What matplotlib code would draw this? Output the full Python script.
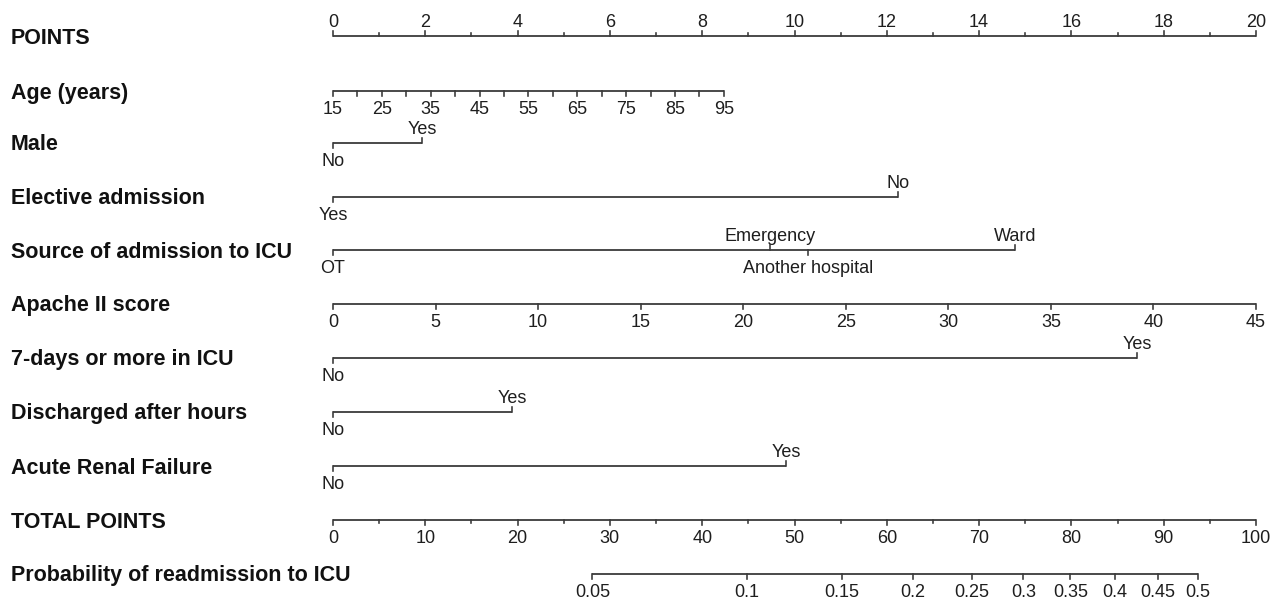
import numpy as np
import matplotlib
matplotlib.use("Agg")
import matplotlib.pyplot as plt

plt.rcParams['font.family'] = ['Liberation Sans', 'DejaVu Sans']

# --- data (positions in "points", 0..20) ---
row_names = ["POINTS", "Age (years)", "Male", "Elective admission",
             "Source of admission to ICU", "Apache II score",
             "7-days or more in ICU", "Discharged after hours",
             "Acute Renal Failure", "TOTAL POINTS",
             "Probability of readmission to ICU"]

points_ticks = list(range(0, 21))
points_labels = list(range(0, 21, 2))

age_ticks = list(range(15, 96, 5))
age_labels = list(range(15, 96, 10))
age_max_points = 8.47          # points at age 95

male_levels = ["No", "Yes"]
male_points = [0.0, 1.93]

elective_levels = ["Yes", "No"]
elective_points = [0.0, 12.24]

source_levels = ["OT", "Emergency", "Another hospital", "Ward"]
source_points = [0.0, 9.47, 10.29, 14.78]
source_side = ["below", "above", "below", "above"]

apache_ticks = list(range(0, 46, 5))
apache_max_points = 20.0       # points at score 45

days7_levels = ["No", "Yes"]
days7_points = [0.0, 17.42]

disch_levels = ["No", "Yes"]
disch_points = [0.0, 3.88]

arf_levels = ["No", "Yes"]
arf_points = [0.0, 9.82]

total_ticks = list(range(0, 101, 5))
total_labels = list(range(0, 101, 10))

prob_labels = ["0.05", "0.1", "0.15", "0.2", "0.25", "0.3", "0.35", "0.4", "0.45", "0.5"]
prob_total_points = [28.1, 44.8, 55.1, 62.8, 69.2, 74.8, 79.9, 84.7, 89.4, 93.7]

# --- layout ---
W, H = 1273, 605
x_left_px, x_right_px = 333, 1256
ppu = (x_right_px - x_left_px) / 20.0
row_y = [36, 91, 143, 197, 250, 304, 358, 412, 466, 520, 574]

LC = "#3a3a3a"
TC = "#1e1e1e"
LW = 1.3
TICK = 5
FS_NAME = 15.5
FS_TICK = 13

fig = plt.figure(figsize=(W / 100, H / 100), dpi=100)
ax = fig.add_axes([0, 0, 1, 1])
ax.set_xlim(-x_left_px / ppu, (W - x_left_px) / ppu)
ax.set_ylim(H, 0)
ax.axis("off")


def hline(y, x0, x1):
    ax.plot([x0, x1], [y, y], color=LC, lw=LW, solid_capstyle="butt")


def tick(x, y, direction, length=TICK):
    d = -length if direction == "above" else length
    ax.plot([x, x], [y, y + d], color=LC, lw=LW * 0.9)


def label(x, y, s, side):
    if side == "above":
        ax.text(x, y - 5, s, ha="center", va="bottom", fontsize=FS_TICK, color=TC)
    else:
        ax.text(x, y + 10, s, ha="center", va="top", fontsize=FS_TICK, color=TC)


# row names
for name, y in zip(row_names, row_y):
    ax.text(-x_left_px / ppu + 11 / ppu, y + 2, name, ha="left", va="center",
            fontsize=FS_NAME, fontweight="bold", color="#111111")

# POINTS
y = row_y[0]
hline(y, 0, 20)
for t in points_ticks:
    tick(t, y, "above", TICK if t in points_labels else 3)
for t in points_labels:
    label(t, y, str(t), "above")

# Age
y = row_y[1]
age_pos = lambda a: (a - 15) / (95 - 15) * age_max_points
hline(y, age_pos(15), age_pos(95))
for a in age_ticks:
    tick(age_pos(a), y, "below")
for a in age_labels:
    label(age_pos(a), y, str(a), "below")


def categorical(y, levels, pts, sides=None):
    hline(y, min(pts), max(pts))
    if sides is None:
        sides = ["below"] + ["above"] * (len(levels) - 1)
    for lev, p, s in zip(levels, pts, sides):
        tick(p, y, s)
        label(p, y, lev, s)


categorical(row_y[2], male_levels, male_points)
categorical(row_y[3], elective_levels, elective_points)
categorical(row_y[4], source_levels, source_points, source_side)

# Apache II
y = row_y[5]
ap_pos = lambda s: s / 45 * apache_max_points
hline(y, ap_pos(0), ap_pos(45))
for s in apache_ticks:
    tick(ap_pos(s), y, "below")
    label(ap_pos(s), y, str(s), "below")

categorical(row_y[6], days7_levels, days7_points)
categorical(row_y[7], disch_levels, disch_points)
categorical(row_y[8], arf_levels, arf_points)

# TOTAL POINTS
y = row_y[9]
tp_pos = lambda t: t / 100 * 20
hline(y, tp_pos(0), tp_pos(100))
for t in total_ticks:
    tick(tp_pos(t), y, "below", TICK if t in total_labels else 3)
for t in total_labels:
    label(tp_pos(t), y, str(t), "below")

# Probability
y = row_y[10]
pp = [tp_pos(t) for t in prob_total_points]
hline(y, pp[0], pp[-1])
for p, s in zip(pp, prob_labels):
    tick(p, y, "below")
    label(p, y, s, "below")

fig.savefig("out.png", dpi=100, facecolor="white")
